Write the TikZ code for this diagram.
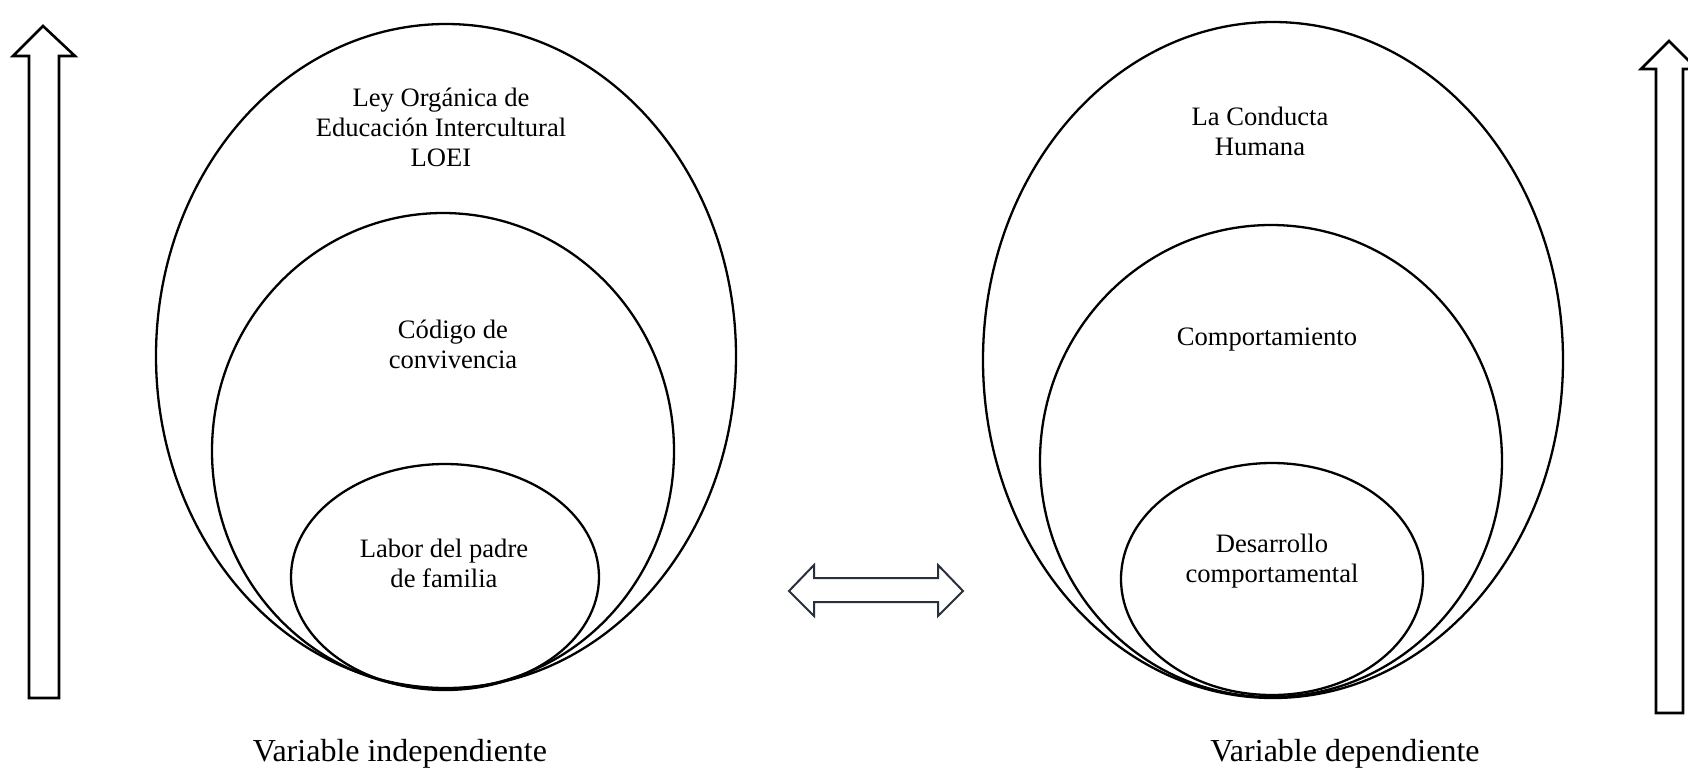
\documentclass[tikz,border=0pt]{standalone}
\usepackage{fontspec}
\setmainfont{Liberation Serif}
\usetikzlibrary{shapes.geometric}
\definecolor{arrowgray}{HTML}{27303C}
\tikzset{
  ring/.style={draw=black, line width=1.15pt, ellipse, inner sep=0pt, fill=none},
  lbl/.style={align=center, inner sep=0pt, font=\fontsize{13.3}{15}\selectfont},
  varlbl/.style={inner sep=0pt, font=\fontsize{16}{19}\selectfont},
  bigarrow/.style={draw=black, line width=1.3pt, line join=miter, fill=white},
  dblarrow/.style={draw=arrowgray, line width=1pt, line join=miter, fill=white}
}
\begin{document}
\begin{tikzpicture}[x=0.5pt,y=-0.5pt]
\useasboundingbox[fill=white] (0,0) rectangle (1688,773);
% left ellipses
\node[ring, minimum width=290pt, minimum height=332pt] (outerL) at (446,356) {};
\node[ring, minimum width=231pt, minimum height=238pt] (midL) at (443,451) {};
\node[ring, minimum width=154pt, minimum height=113pt] (innerL) at (445,577) {};
% right ellipses
\node[ring, minimum width=290pt, minimum height=338pt] (outerR) at (1273,360) {};
\node[ring, minimum width=231pt, minimum height=236pt] (midR) at (1271,461) {};
\node[ring, minimum width=151pt, minimum height=116pt] (innerR) at (1272,579) {};
% texts
\node[lbl] (tLOEI) at (441,127) {Ley Orgánica de\\Educación Intercultural\\LOEI};
\node[lbl] (tCod) at (453,344) {Código de\\convivencia};
\node[lbl] (tLab) at (444,563) {Labor del padre\\de familia};
\node[lbl] (tCon) at (1260,131) {La Conducta\\Humana};
\node[lbl] (tComp) at (1267,340) {Comportamiento};
\node[lbl] (tDes) at (1272,561) {Desarrollo\\comportamental};
\node[varlbl] (vInd) at (400,754) {Variable independiente};
\node[varlbl] (vDep) at (1345,754) {Variable dependiente};
% vertical arrows
\draw[bigarrow] (43,26) -- (75,56) -- (59,56) -- (59,698) -- (29,698) -- (29,56) -- (13,56) -- cycle;
\draw[bigarrow] (1669,41) -- (1697,69) -- (1683,69) -- (1683,713) -- (1656,713) -- (1656,69) -- (1641,69) -- cycle;
% double arrow
\draw[dblarrow] (789,591) -- (814,565) -- (814,578) -- (938,578) -- (938,565) -- (963,591) -- (938,616) -- (938,602) -- (814,602) -- (814,616) -- cycle;
\end{tikzpicture}
\end{document}
